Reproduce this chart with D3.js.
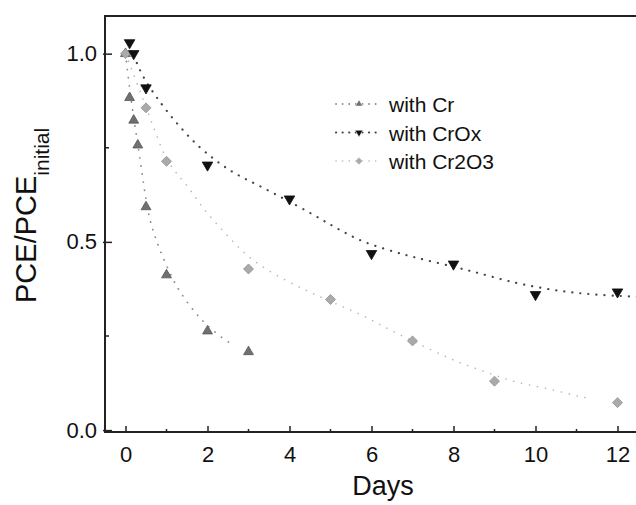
<!DOCTYPE html>
<html>
<head>
<meta charset="utf-8">
<script src="https://cdn.jsdelivr.net/npm/d3@7"></script>
<style>
  body { margin: 0; background: #fff; }
  svg { display: block; }
  text { font-family: "Liberation Sans", Arial, sans-serif; fill: #111; }
</style>
</head>
<body>
<svg id="chart" width="636" height="505"></svg>
<script>
"use strict";

// measured points (days, PCE/PCE_initial)
const crDays = [0, 0.1, 0.2, 0.3, 0.5, 1, 2, 3];
const crValues = [1.0, 0.883, 0.823, 0.757, 0.593, 0.412, 0.263, 0.208];

const croxDays = [0.1, 0.2, 0.5, 2, 4, 6, 8, 10, 12];
const croxValues = [1.029, 1.0, 0.909, 0.704, 0.614, 0.469, 0.441, 0.360, 0.367];

const cr2o3Days = [0, 0.5, 1, 3, 5, 7, 9, 12];
const cr2o3Values = [1.0, 0.856, 0.714, 0.428, 0.347, 0.237, 0.130, 0.073];

// fitted curves
const crFitDays = [0, 0.1, 0.2, 0.3, 0.4, 0.5, 0.6, 0.7, 0.82, 1.0, 1.19, 1.44, 1.76, 1.94, 2.31, 2.6];
const crFitValues = [1.0, 0.905, 0.83, 0.76, 0.685, 0.61, 0.555, 0.52, 0.483, 0.437, 0.392, 0.348, 0.304, 0.283, 0.248, 0.228];

const croxFitDays = [0.2, 0.28, 0.37, 0.5, 0.75, 1.05, 1.41, 1.79, 2.19, 2.55, 2.94, 3.34, 3.75, 4.0, 4.54, 4.91, 5.31, 5.72, 6.29, 6.86, 7.35, 8.0, 8.48, 9.05, 9.62, 10.43, 11.08, 11.73, 12.5];
const croxFitValues = [0.995, 0.974, 0.952, 0.925, 0.885, 0.841, 0.795, 0.752, 0.717, 0.689, 0.666, 0.645, 0.621, 0.607, 0.575, 0.551, 0.527, 0.503, 0.482, 0.464, 0.451, 0.434, 0.421, 0.404, 0.388, 0.372, 0.363, 0.358, 0.354];

const cr2o3FitDays = [0, 0.25, 0.5, 0.75, 1.0, 1.28, 1.58, 1.86, 2.21, 2.58, 2.97, 3.54, 4.34, 4.75, 5.31, 5.72, 6.13, 6.49, 7.0, 7.47, 8.06, 8.26, 9.23, 9.63, 10.43, 11.0, 11.3];
const cr2o3FitValues = [1.0, 0.93, 0.858, 0.785, 0.715, 0.678, 0.639, 0.593, 0.549, 0.505, 0.462, 0.418, 0.374, 0.354, 0.327, 0.308, 0.285, 0.264, 0.237, 0.212, 0.183, 0.175, 0.137, 0.124, 0.108, 0.09, 0.085];

const xTicks = [0, 2, 4, 6, 8, 10, 12];
const xMinorTicks = [1, 3, 5, 7, 9, 11];
const yTicks = [0, 0.5, 1.0];
const yMinorTicks = [0.25, 0.75];

const legendLabels = ["with Cr", "with CrOx", "with Cr2O3"];

const plotLeft = 105, plotRight = 638, plotTop = 16, plotBottom = 432;

const svg = d3.select("#chart");

const x = d3.scaleLinear().domain([-0.5, 12.5]).range([plotLeft, plotRight]);
const y = d3.scaleLinear().domain([-0.005, 1.1]).range([plotBottom, plotTop]);

svg.append("defs").append("clipPath").attr("id", "plot")
  .append("rect").attr("x", plotLeft).attr("y", plotTop)
  .attr("width", plotRight - plotLeft).attr("height", plotBottom - plotTop);

// square diamond marker
const diamond = {
  draw(ctx, size) {
    const r = Math.sqrt(size / 2);
    ctx.moveTo(0, -r); ctx.lineTo(r, 0); ctx.lineTo(0, r); ctx.lineTo(-r, 0);
    ctx.closePath();
  }
};

const series = [
  { days: crDays, values: crValues, fitDays: crFitDays, fitValues: crFitValues,
    type: d3.symbolTriangle, rot: 0, size: 42, fill: "#707070", stroke: "#555",
    line: "#8c8c8c", lw: 1.8 },
  { days: cr2o3Days, values: cr2o3Values, fitDays: cr2o3FitDays, fitValues: cr2o3FitValues,
    type: diamond, rot: 0, size: 50, fill: "#aaaaaa", stroke: "#909090",
    line: "#b8b8b8", lw: 1.6 },
  { days: croxDays, values: croxValues, fitDays: croxFitDays, fitValues: croxFitValues,
    type: d3.symbolTriangle, rot: 180, size: 48, fill: "#111", stroke: "#111",
    line: "#444", lw: 2.2 }
];

const line = d3.line()
  .x(d => x(d[0]))
  .y(d => y(d[1]))
  .curve(d3.curveBasis);

// fitted dotted curves
const fits = svg.append("g").attr("clip-path", "url(#plot)");
series.forEach(s => {
  fits.append("path")
    .attr("d", line(d3.zip(s.fitDays, s.fitValues)))
    .attr("fill", "none")
    .attr("stroke", s.line)
    .attr("stroke-width", s.lw)
    .attr("stroke-linecap", "round")
    .attr("stroke-dasharray", "0.1,8");
});

// markers
series.forEach(s => {
  svg.append("g").selectAll("path")
    .data(d3.zip(s.days, s.values))
    .enter()
    .append("path")
    .attr("d", d3.symbol().type(s.type).size(s.size))
    .attr("transform", d => `translate(${x(d[0])},${y(d[1])}) rotate(${s.rot})`)
    .attr("fill", s.fill)
    .attr("stroke", s.stroke)
    .attr("stroke-width", 0.8);
});

// axes frame
svg.append("path")
  .attr("d", `M${plotRight},${plotTop}H${plotLeft}V${plotBottom}H${plotRight}`)
  .attr("fill", "none").attr("stroke", "#222").attr("stroke-width", 2);

const xAxis = svg.append("g")
  .attr("transform", `translate(0,${plotBottom})`)
  .call(d3.axisBottom(x).tickValues(xTicks).tickSize(-6).tickFormat(d3.format("d")));
xAxis.select(".domain").remove();
xAxis.selectAll("line").attr("stroke", "#222").attr("stroke-width", 1.5);
xAxis.selectAll("text").style("font-size", "22px").attr("dy", "0.71em").attr("y", 14);

svg.append("g").selectAll("line")
  .data(xMinorTicks)
  .enter().append("line")
  .attr("x1", d => x(d)).attr("x2", d => x(d))
  .attr("y1", plotBottom).attr("y2", plotBottom - 3)
  .attr("stroke", "#222").attr("stroke-width", 1.5);

const yAxis = svg.append("g")
  .attr("transform", `translate(${plotLeft},0)`)
  .call(d3.axisLeft(y).tickValues(yTicks).tickSize(-7).tickFormat(d3.format(".1f")));
yAxis.select(".domain").remove();
yAxis.selectAll("line").attr("stroke", "#222").attr("stroke-width", 1.5).attr("x1", -2);
yAxis.selectAll("text").style("font-size", "22px").attr("x", -8);

svg.append("g").selectAll("line")
  .data(yMinorTicks)
  .enter().append("line")
  .attr("x1", plotLeft).attr("x2", plotLeft + 4)
  .attr("y1", d => y(d)).attr("y2", d => y(d))
  .attr("stroke", "#222").attr("stroke-width", 1.5);

// axis titles
svg.append("text")
  .attr("x", 383).attr("y", 495)
  .attr("text-anchor", "middle")
  .style("font-size", "27px")
  .text("Days");

const yTitle = svg.append("text")
  .attr("transform", "translate(36,303) rotate(-90)")
  .style("font-size", "29px");
yTitle.append("tspan").text("PCE/PCE");
yTitle.append("tspan").attr("dy", 13).style("font-size", "21px").text("initial");

// legend
const legend = svg.append("g");
series.forEach((s, i) => {
  // legend order: Cr, CrOx, Cr2O3
  const row = [0, 2, 1][i];
  const ly = 104 + row * 28.5;
  legend.append("line")
    .attr("x1", 336).attr("x2", 382).attr("y1", ly).attr("y2", ly)
    .attr("stroke", s.line).attr("stroke-width", s.lw)
    .attr("stroke-linecap", "round").attr("stroke-dasharray", "0.1,6.5");
  legend.append("path")
    .attr("d", d3.symbol().type(s.type).size(s.size * 0.55))
    .attr("transform", `translate(359,${ly}) rotate(${s.rot})`)
    .attr("fill", s.fill).attr("stroke", "#fff").attr("stroke-width", 0.5);
  legend.append("text")
    .attr("x", 389).attr("y", ly + 8)
    .style("font-size", "21px")
    .text(legendLabels[row]);
});
</script>
</body>
</html>
